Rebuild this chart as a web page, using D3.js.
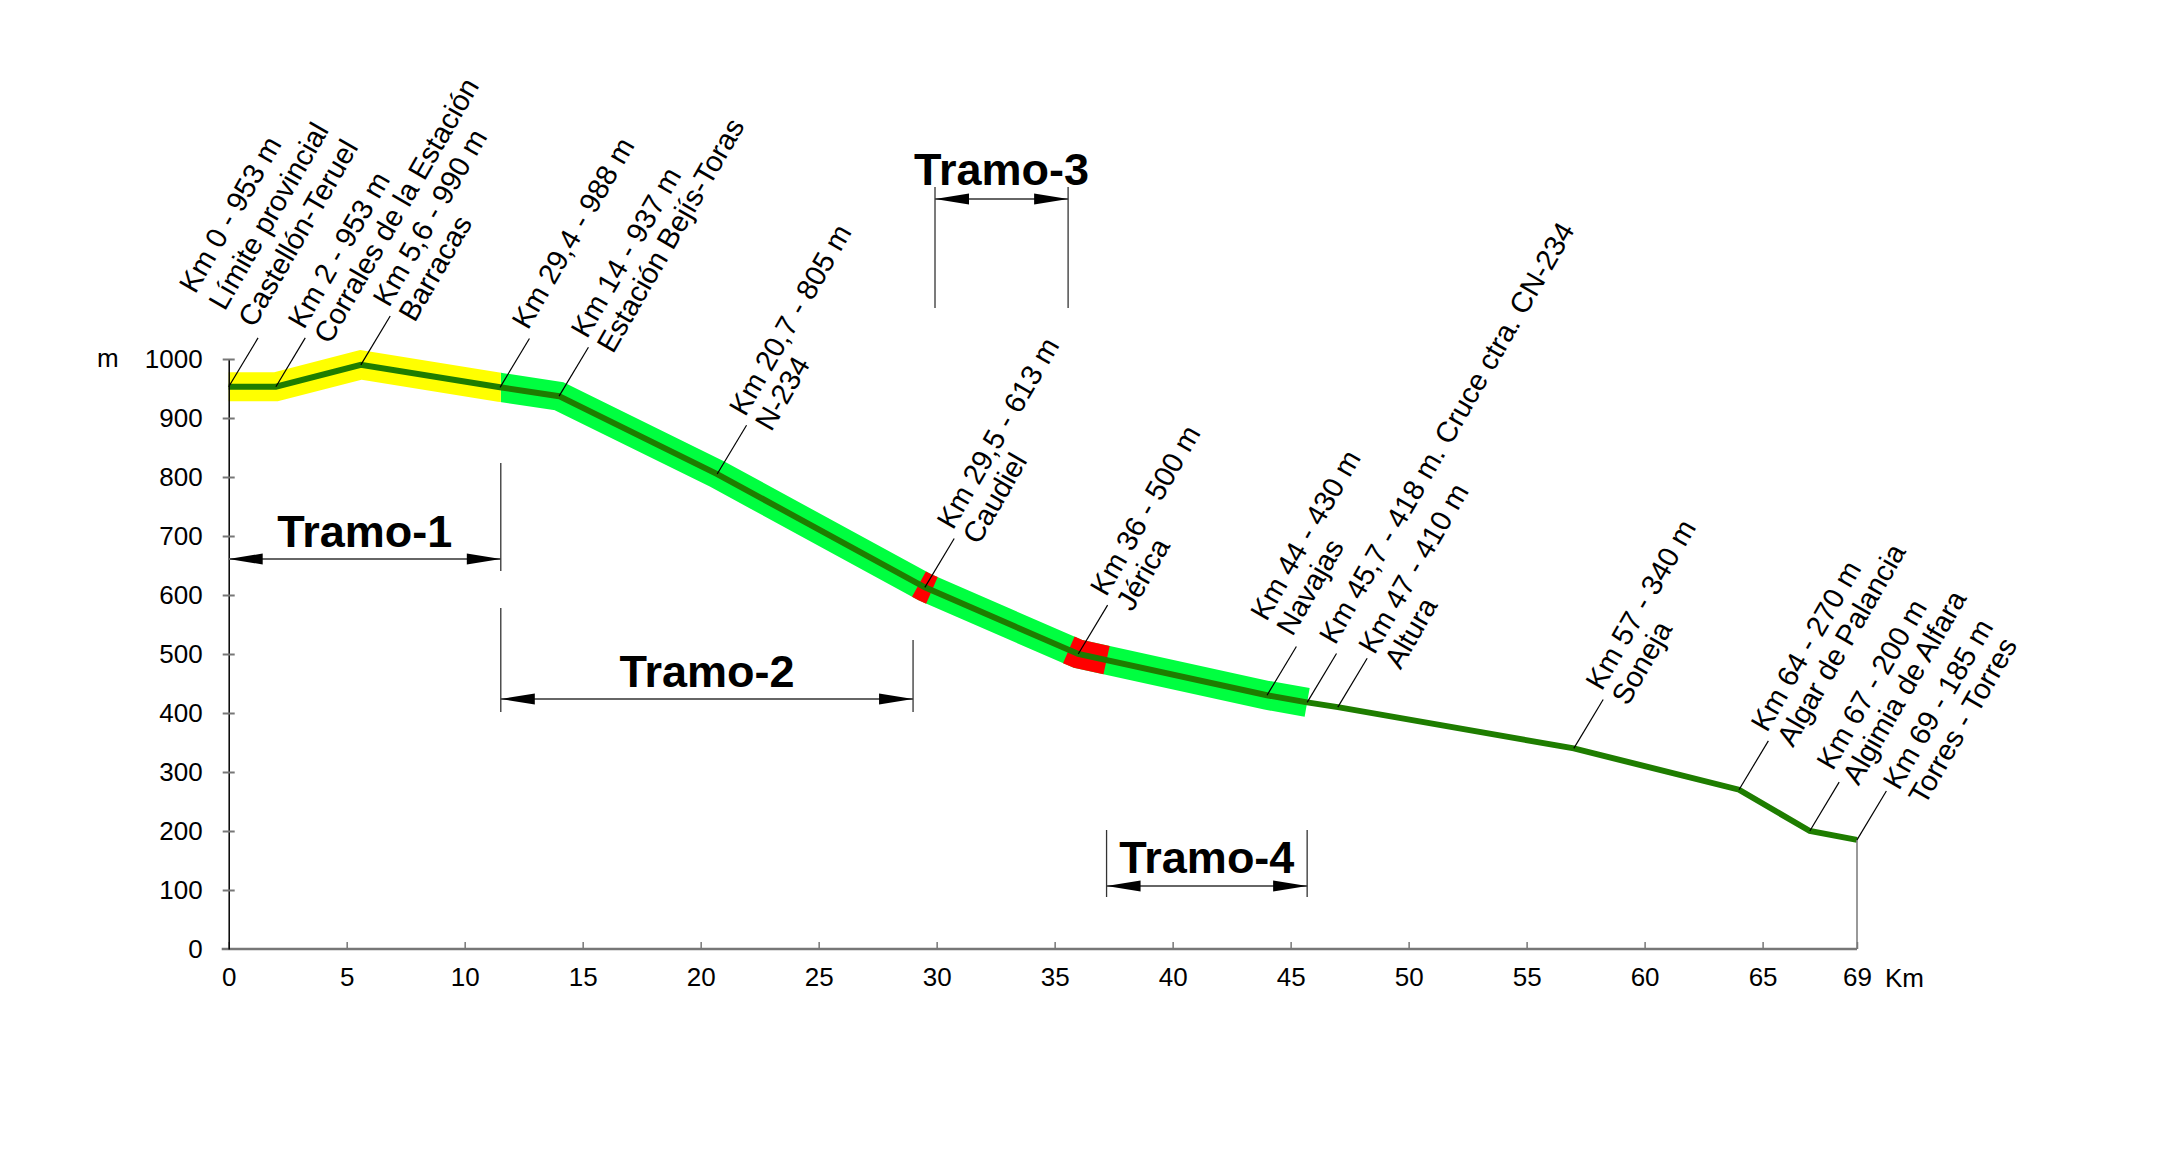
<!DOCTYPE html>
<html>
<head>
<meta charset="utf-8">
<script src="https://cdn.jsdelivr.net/npm/d3@7"></script>
<style>
  body { margin: 0; background: #fff; }
  text { font-family: "Liberation Sans", Arial, sans-serif; }
</style>
</head>
<body>
<svg id="chart" width="2174" height="1161"></svg>
<script>
// stations along the route (km, elevation m) and their labels
const stationKm = [0, 2, 5.6, 11.5, 14, 20.7, 29.5, 36, 44, 45.7, 47, 57, 64, 67, 69]
const stationM = [953, 953, 990, 952, 937, 805, 613, 500, 430, 418, 410, 340, 270, 200, 185]
const stationText = [
  ['Km 0 - 953 m', 'Límite provincial', 'Castellón-Teruel'],
  ['Km 2 - 953 m', 'Corrales de la Estación'],
  ['Km 5,6 - 990 m', 'Barracas'],
  ['Km 29,4 - 988 m'],
  ['Km 14 - 937 m', 'Estación Bejís-Toras'],
  ['Km 20,7 - 805 m', 'N-234'],
  ['Km 29,5 - 613 m', 'Caudiel'],
  ['Km 36 - 500 m', 'Jérica'],
  ['Km 44 - 430 m', 'Navajas'],
  ['Km 45,7 - 418 m. Cruce ctra. CN-234'],
  ['Km 47 - 410 m', 'Altura'],
  ['Km 57 - 340 m', 'Soneja'],
  ['Km 64 - 270 m', 'Algar de Palancia'],
  ['Km 67 - 200 m', 'Algimia de Alfara'],
  ['Km 69 - 185 m', 'Torres - Torres']
]
// labels whose last line (not first) sits at the leader end
const anchorLast = ['Km 0 - 953 m', 'Km 44 - 430 m']
// extra perpendicular nudge for crowded labels (px)
const labelNudge = {'Km 47 - 410 m': 10, 'Km 67 - 200 m': -6, 'Km 69 - 185 m': 16}

const xTicks = [0, 5, 10, 15, 20, 25, 30, 35, 40, 45, 50, 55, 60, 65, 69]
const yTicks = [0, 100, 200, 300, 400, 500, 600, 700, 800, 900, 1000]

// highlighted band zones (km)
const yellowZone = [0, 11.53]
const greenZone = [11.53, 45.7]
const redZones = [[29.25, 29.8], [35.6, 37.2]]

// tramos (km)
const tramoNames = ['Tramo-1', 'Tramo-2', 'Tramo-3', 'Tramo-4']
const tramoFrom = [0, 11.53, 29.93, 37.2]
const tramoTo = [11.53, 29.0, 35.57, 45.7]

// layout of the tramo dimension marks (px)
const tramoLayout = [
  {arrowY: 559, textY: 547, left: null, right: [463, 571]},
  {arrowY: 699, textY: 687, left: [608, 712], right: [640, 712]},
  {arrowY: 199, textY: 185, left: [187, 308], right: [187, 308]},
  {arrowY: 886, textY: 873, left: [830, 897], right: [830, 897]}
]

const svg = d3.select('#chart')
const x = d3.scaleLinear().domain([0, 69]).range([228.7, 1857])
const y = d3.scaleLinear().domain([0, 1000]).range([949, 359])

const stations = stationKm.map((k, i) => ({km: k, m: stationM[i], text: stationText[i]}))
const pts = stations.map(d => [x(d.km), y(d.m)])
const bandPts = stations.filter(d => d.km <= greenZone[1]).map(d => [x(d.km), y(d.m)])
const line = d3.line()

// clip regions for band colours
const defs = svg.append('defs')
defs.append('clipPath').attr('id', 'clipYellow').append('rect')
  .attr('x', 0).attr('y', 0).attr('width', x(yellowZone[1])).attr('height', 1161)
defs.append('clipPath').attr('id', 'clipGreen').append('rect')
  .attr('x', x(greenZone[0])).attr('y', 0).attr('width', 2174).attr('height', 1161)

const band = (color, clip) => svg.append('path')
  .attr('d', line(bandPts))
  .attr('fill', 'none')
  .attr('stroke', color)
  .attr('stroke-width', 29)
  .attr('stroke-linejoin', 'miter')
  .attr('stroke-miterlimit', 10)
  .attr('clip-path', clip)

band('#00ff40', 'url(#clipGreen)')
band('#ffff00', 'url(#clipYellow)')

// path length up to a given km (for the red dashes)
const lengthAt = km => {
  let L = 0
  const px = x(km)
  for (let i = 1; i < bandPts.length; i++) {
    const [x0, y0] = bandPts[i - 1], [x1, y1] = bandPts[i]
    const seg = Math.hypot(x1 - x0, y1 - y0)
    if (px <= x1) return L + seg * (px - x0) / (x1 - x0)
    L += seg
  }
  return L
}
const dash = [0]
let last = 0
redZones.forEach(([a, b]) => {
  const la = lengthAt(a), lb = lengthAt(b)
  dash.push(la - last, lb - la)
  last = lb
})
dash.push(5000)
band('#ff0000', null).attr('stroke-dasharray', dash.join(' '))

// profile line
svg.append('path')
  .attr('d', line(pts))
  .attr('fill', 'none')
  .attr('stroke', '#1e7d00')
  .attr('stroke-width', 6)
  .attr('stroke-linejoin', 'miter')

// axes
const xAxis = svg.append('g')
  .attr('transform', `translate(0,${y(0)})`)
  .call(d3.axisBottom(x).tickValues(xTicks).tickFormat(d3.format('d'))
    .tickSizeInner(-7).tickSizeOuter(0).tickPadding(19))
xAxis.select('.domain').attr('stroke', '#777').attr('stroke-width', 2.5)
  .attr('d', `M${x(0) - 7},0H${x(69)}`)
xAxis.selectAll('.tick line').attr('stroke', '#777').attr('stroke-width', 1.5)
xAxis.selectAll('.tick text').attr('font-size', 26).attr('fill', '#000')

const yAxis = svg.append('g')
  .attr('transform', `translate(${x(0)},0)`)
  .call(d3.axisLeft(y).tickValues(yTicks).tickFormat(d3.format('d'))
    .tickSizeInner(6).tickSizeOuter(0).tickPadding(20))
yAxis.select('.domain').attr('stroke', '#000').attr('stroke-width', 1.5)
yAxis.selectAll('.tick line').attr('x1', 6).attr('x2', -6).attr('stroke', '#777').attr('stroke-width', 2)
yAxis.selectAll('.tick text').attr('font-size', 26).attr('fill', '#000')
yAxis.selectAll('.tick').filter(d => d === 0).select('line').remove()

svg.append('text').attr('x', 97).attr('y', y(1000) + 8).attr('font-size', 26).text('m')
svg.append('text').attr('x', x(69) + 28).attr('y', y(0) + 38).attr('font-size', 26).text('Km')

// vertical drop at the last station
const lastSt = stations[stations.length - 1]
svg.append('line')
  .attr('x1', x(lastSt.km)).attr('x2', x(lastSt.km))
  .attr('y1', y(lastSt.m)).attr('y2', y(0))
  .attr('stroke', '#777').attr('stroke-width', 1.5)

// leaders and rotated labels
const leadLen = 57, leadAng = 59 * Math.PI / 180, lineGap = 30
const lab = svg.append('g').selectAll('g').data(stations).join('g')
lab.append('line')
  .attr('x1', d => x(d.km)).attr('y1', d => y(d.m))
  .attr('x2', d => x(d.km) + leadLen * Math.cos(leadAng))
  .attr('y2', d => y(d.m) - leadLen * Math.sin(leadAng))
  .attr('stroke', '#000').attr('stroke-width', 1.2)
lab.append('g')
  .attr('transform', d => `translate(${x(d.km) + leadLen * Math.cos(leadAng)},${y(d.m) - leadLen * Math.sin(leadAng)}) rotate(-60)`)
  .each(function (d) {
    const n = d.text.length
    const fromLast = anchorLast.includes(d.text[0])
    const gap = n > 2 ? 34 : lineGap
    const nudge = labelNudge[d.text[0]] || 0
    d3.select(this).selectAll('text').data(d.text).join('text')
      .attr('x', 6)
      .attr('y', (t, i) => nudge + (fromLast ? -8 - (n - 1 - i) * gap : -5 + i * gap))
      .attr('font-size', 29)
      .attr('fill', '#000')
      .text(t => t)
  })

// tramo dimension marks
const arrowHead = (x0, yy, dir) => `M${x0},${yy}L${x0 + dir * 34},${yy - 5.5}L${x0 + dir * 34},${yy + 5.5}Z`
tramoNames.forEach((name, i) => {
  const L = tramoLayout[i], xa = x(tramoFrom[i]), xb = x(tramoTo[i])
  const g = svg.append('g')
  g.append('line').attr('x1', xa).attr('x2', xb).attr('y1', L.arrowY).attr('y2', L.arrowY)
    .attr('stroke', '#666').attr('stroke-width', 2)
  g.append('path').attr('d', arrowHead(xa, L.arrowY, 1)).attr('fill', '#000')
  g.append('path').attr('d', arrowHead(xb, L.arrowY, -1)).attr('fill', '#000')
  if (L.left) g.append('line').attr('x1', xa).attr('x2', xa).attr('y1', L.left[0]).attr('y2', L.left[1])
    .attr('stroke', '#333').attr('stroke-width', 1.3)
  if (L.right) g.append('line').attr('x1', xb).attr('x2', xb).attr('y1', L.right[0]).attr('y2', L.right[1])
    .attr('stroke', '#333').attr('stroke-width', 1.3)
  g.append('text').attr('x', (xa + xb) / 2).attr('y', L.textY)
    .attr('text-anchor', 'middle').attr('font-size', 45).attr('font-weight', 'bold')
    .text(name)
})
</script>
</body>
</html>
